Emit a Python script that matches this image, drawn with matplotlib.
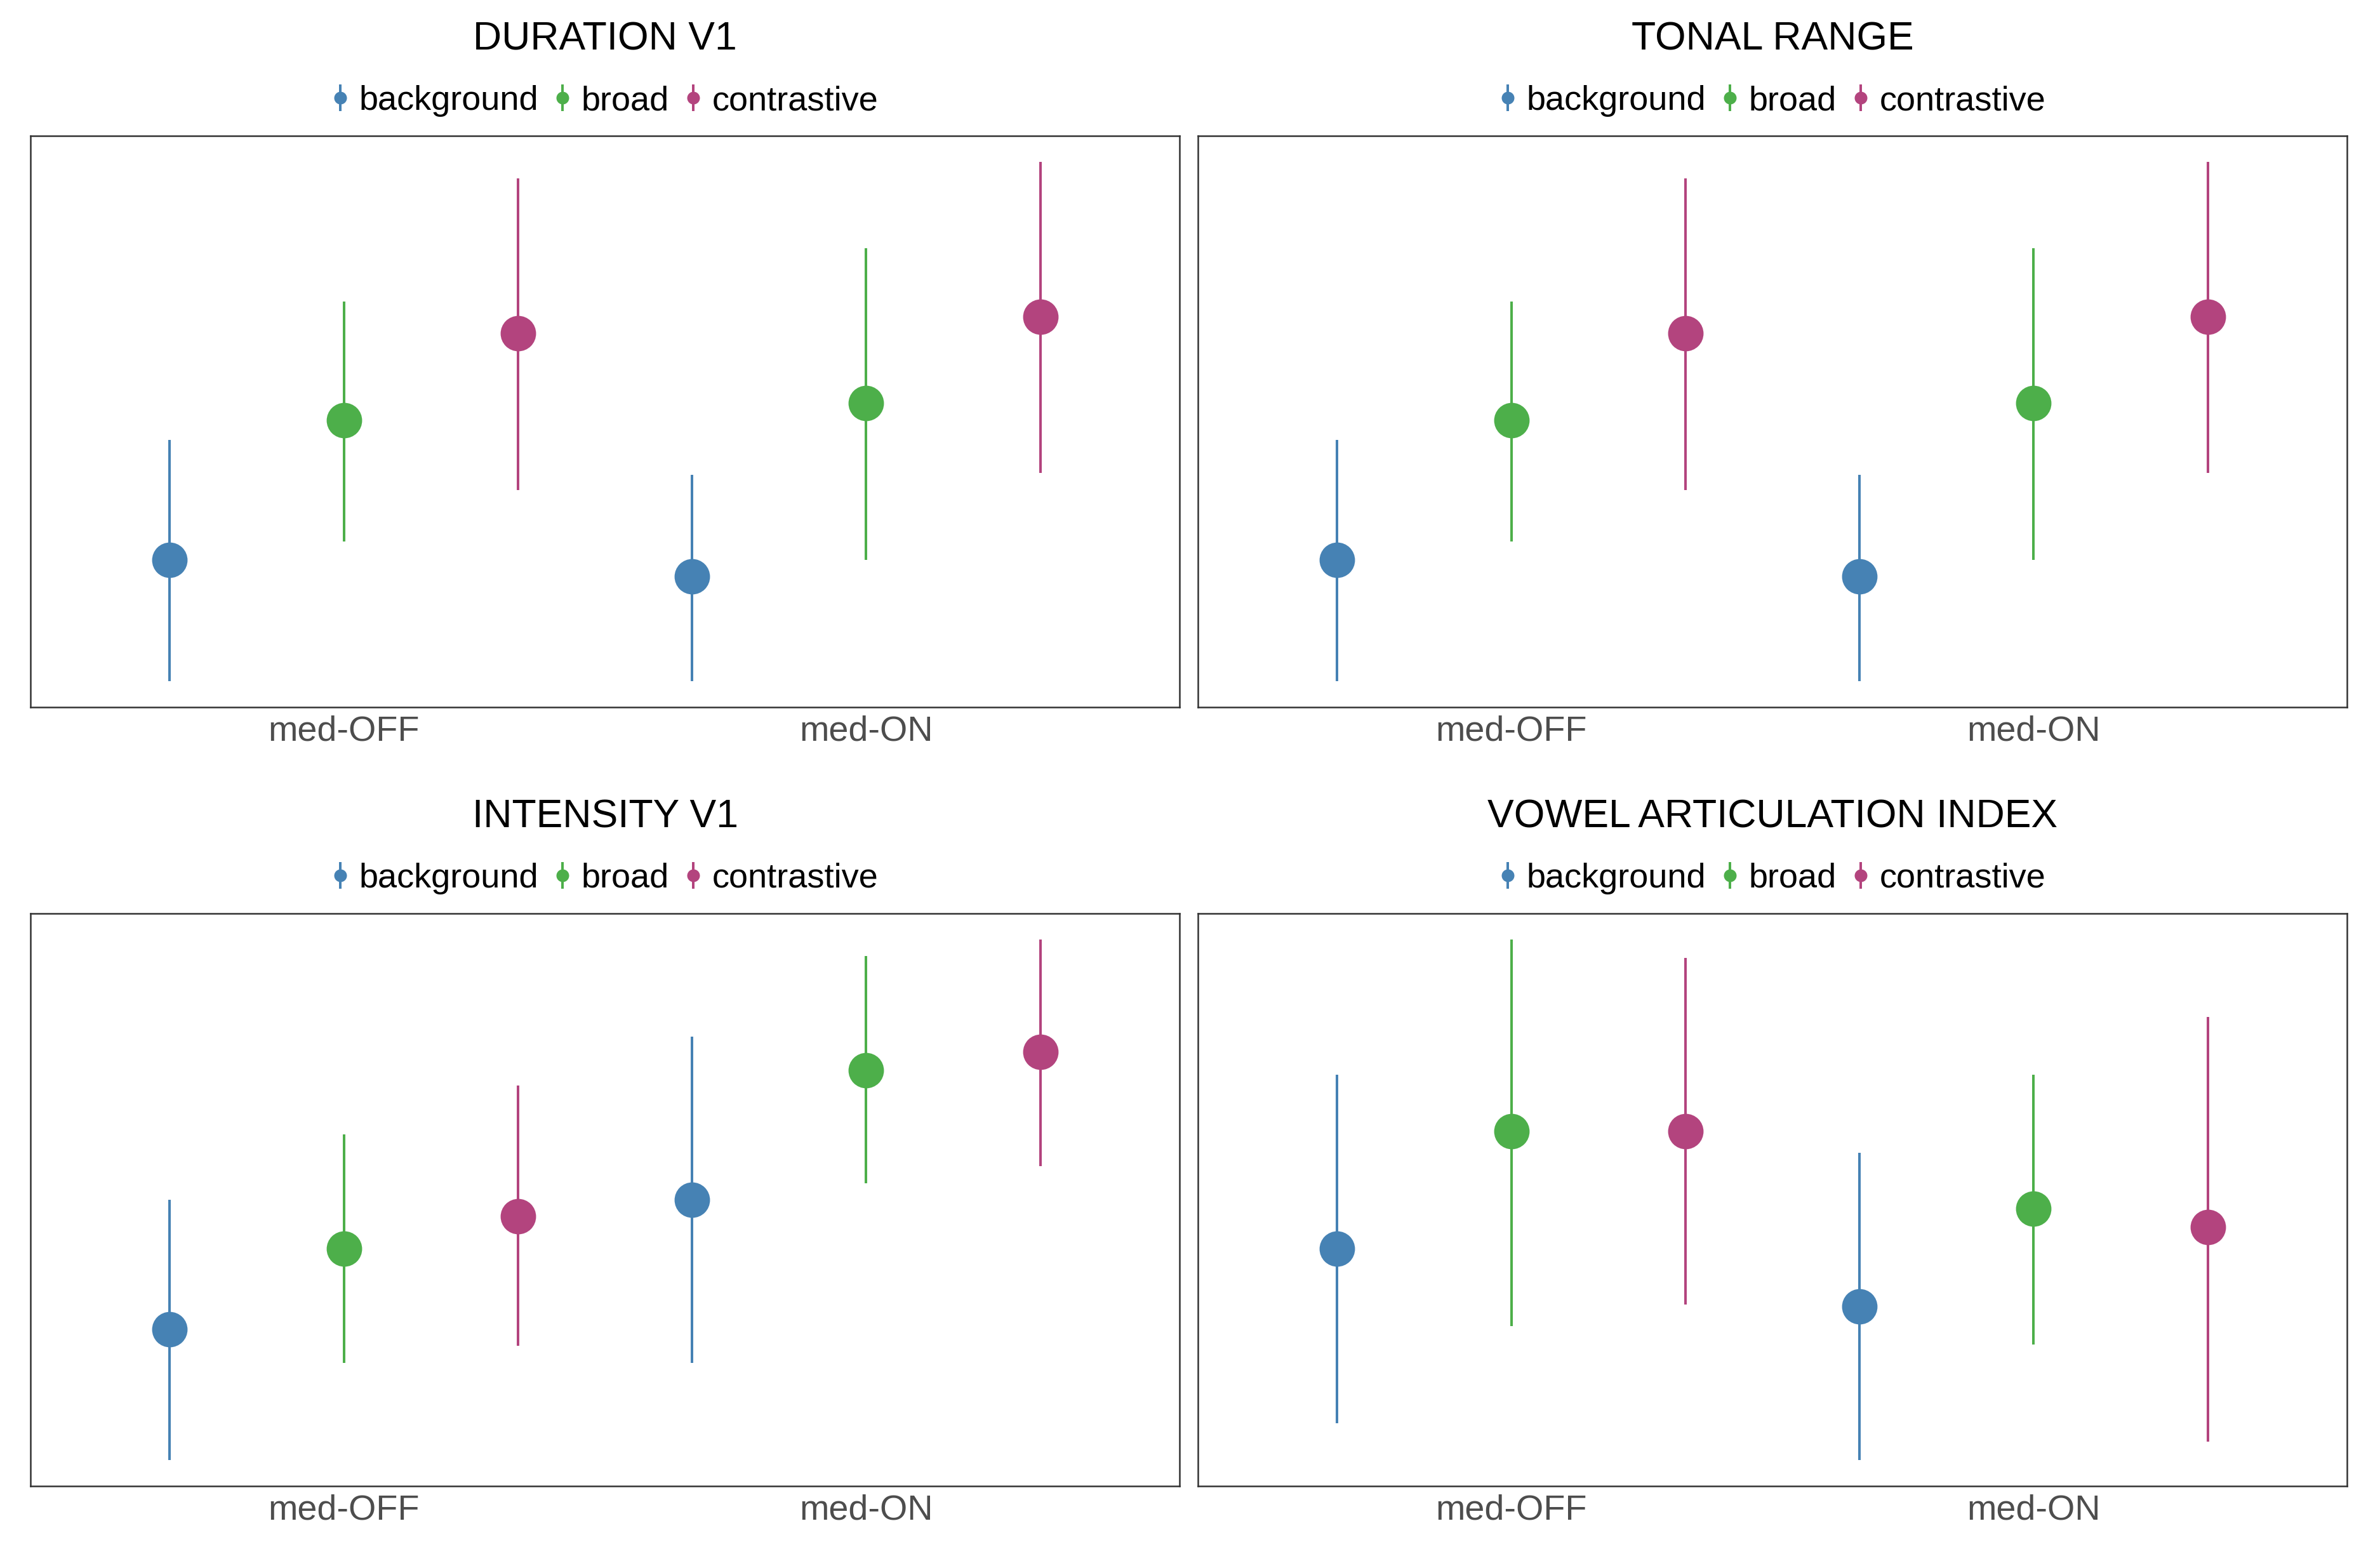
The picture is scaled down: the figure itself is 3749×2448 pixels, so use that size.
import matplotlib
matplotlib.use("Agg")
import matplotlib.pyplot as plt
from matplotlib.lines import Line2D
from matplotlib.legend_handler import HandlerTuple
import numpy as np

plt.rcParams['font.family'] = ['Liberation Sans', 'DejaVu Sans']

conditions = ["med-OFF", "med-ON"]
series = ["background", "broad", "contrastive"]
colors = ["#4682B4", "#4DAF4A", "#B3447E"]

titles = ["DURATION V1", "TONAL RANGE", "INTENSITY V1", "VOWEL ARTICULATION INDEX"]

# estimates and interval bounds (arbitrary units), per series: [med-OFF, med-ON]
dur_est = [[97, 86], [189, 200], [246, 257]]
dur_lo = [[17, 17], [109, 97], [143, 154]]
dur_hi = [[176, 153], [267, 302], [348, 359]]

ton_est = [[97, 86], [189, 200], [246, 257]]
ton_lo = [[17, 17], [109, 97], [143, 154]]
ton_hi = [[176, 153], [267, 302], [348, 359]]

int_est = [[104, 189], [157, 274], [178, 286]]
int_lo = [[18, 82], [82, 200], [93, 211]]
int_hi = [[189, 296], [232, 349], [264, 360]]

vai_est = [[157, 119], [234, 183], [234, 171]]
vai_lo = [[42, 18], [106, 94], [120, 30]]
vai_hi = [[271, 220], [360, 271], [348, 309]]

panels = [(dur_est, dur_lo, dur_hi), (ton_est, ton_lo, ton_hi),
          (int_est, int_lo, int_hi), (vai_est, vai_lo, vai_hi)]

W, H = 3749, 2448
fig = plt.figure(figsize=(W / 300, H / 300), dpi=300)

boxes = [
    (48, 1858, 214, 1114),
    (1887, 3697, 214, 1114),
    (48, 1858, 1439, 2341),
    (1887, 3697, 1439, 2341),
]

offsets = [-1 / 3, 0, 1 / 3]

for (x0, x1, y0, y1), title, (est, lo, hi) in zip(boxes, titles, panels):
    ax = fig.add_axes([x0 / W, 1 - y1 / H, (x1 - x0) / W, (y1 - y0) / H])
    xs = np.arange(len(conditions))
    allv = []
    for i, (name, col) in enumerate(zip(series, colors)):
        e = np.array(est[i]); l = np.array(lo[i]); h = np.array(hi[i])
        allv += list(l) + list(h)
        ax.vlines(xs + offsets[i], l, h, color=col, lw=0.96, zorder=2)
        ax.plot(xs + offsets[i], e, 'o', color=col, ms=13.4, mew=0, zorder=3)
    vmin, vmax = min(allv), max(allv)
    rng = vmax - vmin
    ax.set_ylim(vmin - 0.05 * rng, vmax + 0.05 * rng)
    ax.set_xlim(-0.6, 1.6)
    ax.set_xticks(xs)
    ax.set_xticklabels(conditions, fontsize=13.4, color="#4D4D4D")
    ax.tick_params(axis='x', length=0, pad=3)
    ax.set_yticks([])
    for s in ax.spines.values():
        s.set_color("#333333")
        s.set_linewidth(0.6)
    ph = y1 - y0
    ax.text(0.5, 1 + 152 / ph, title, transform=ax.transAxes, ha='center',
            va='center', fontsize=15, color='black')
    handles = [(Line2D([], [], marker='|', ms=10, mew=0.96, color=c, ls='none'),
                Line2D([], [], marker='o', ms=4.8, mew=0, color=c, ls='none'))
               for c in colors]
    ax.legend(handles, series, handler_map={tuple: HandlerTuple(ndivide=1)},
              loc='center', bbox_to_anchor=(0.5, 1 + 55 / ph), ncol=3,
              frameon=False, fontsize=13.0, handlelength=0.5, handletextpad=0.3,
              columnspacing=0.45, borderpad=0)

fig.savefig("out.png", dpi=300)
